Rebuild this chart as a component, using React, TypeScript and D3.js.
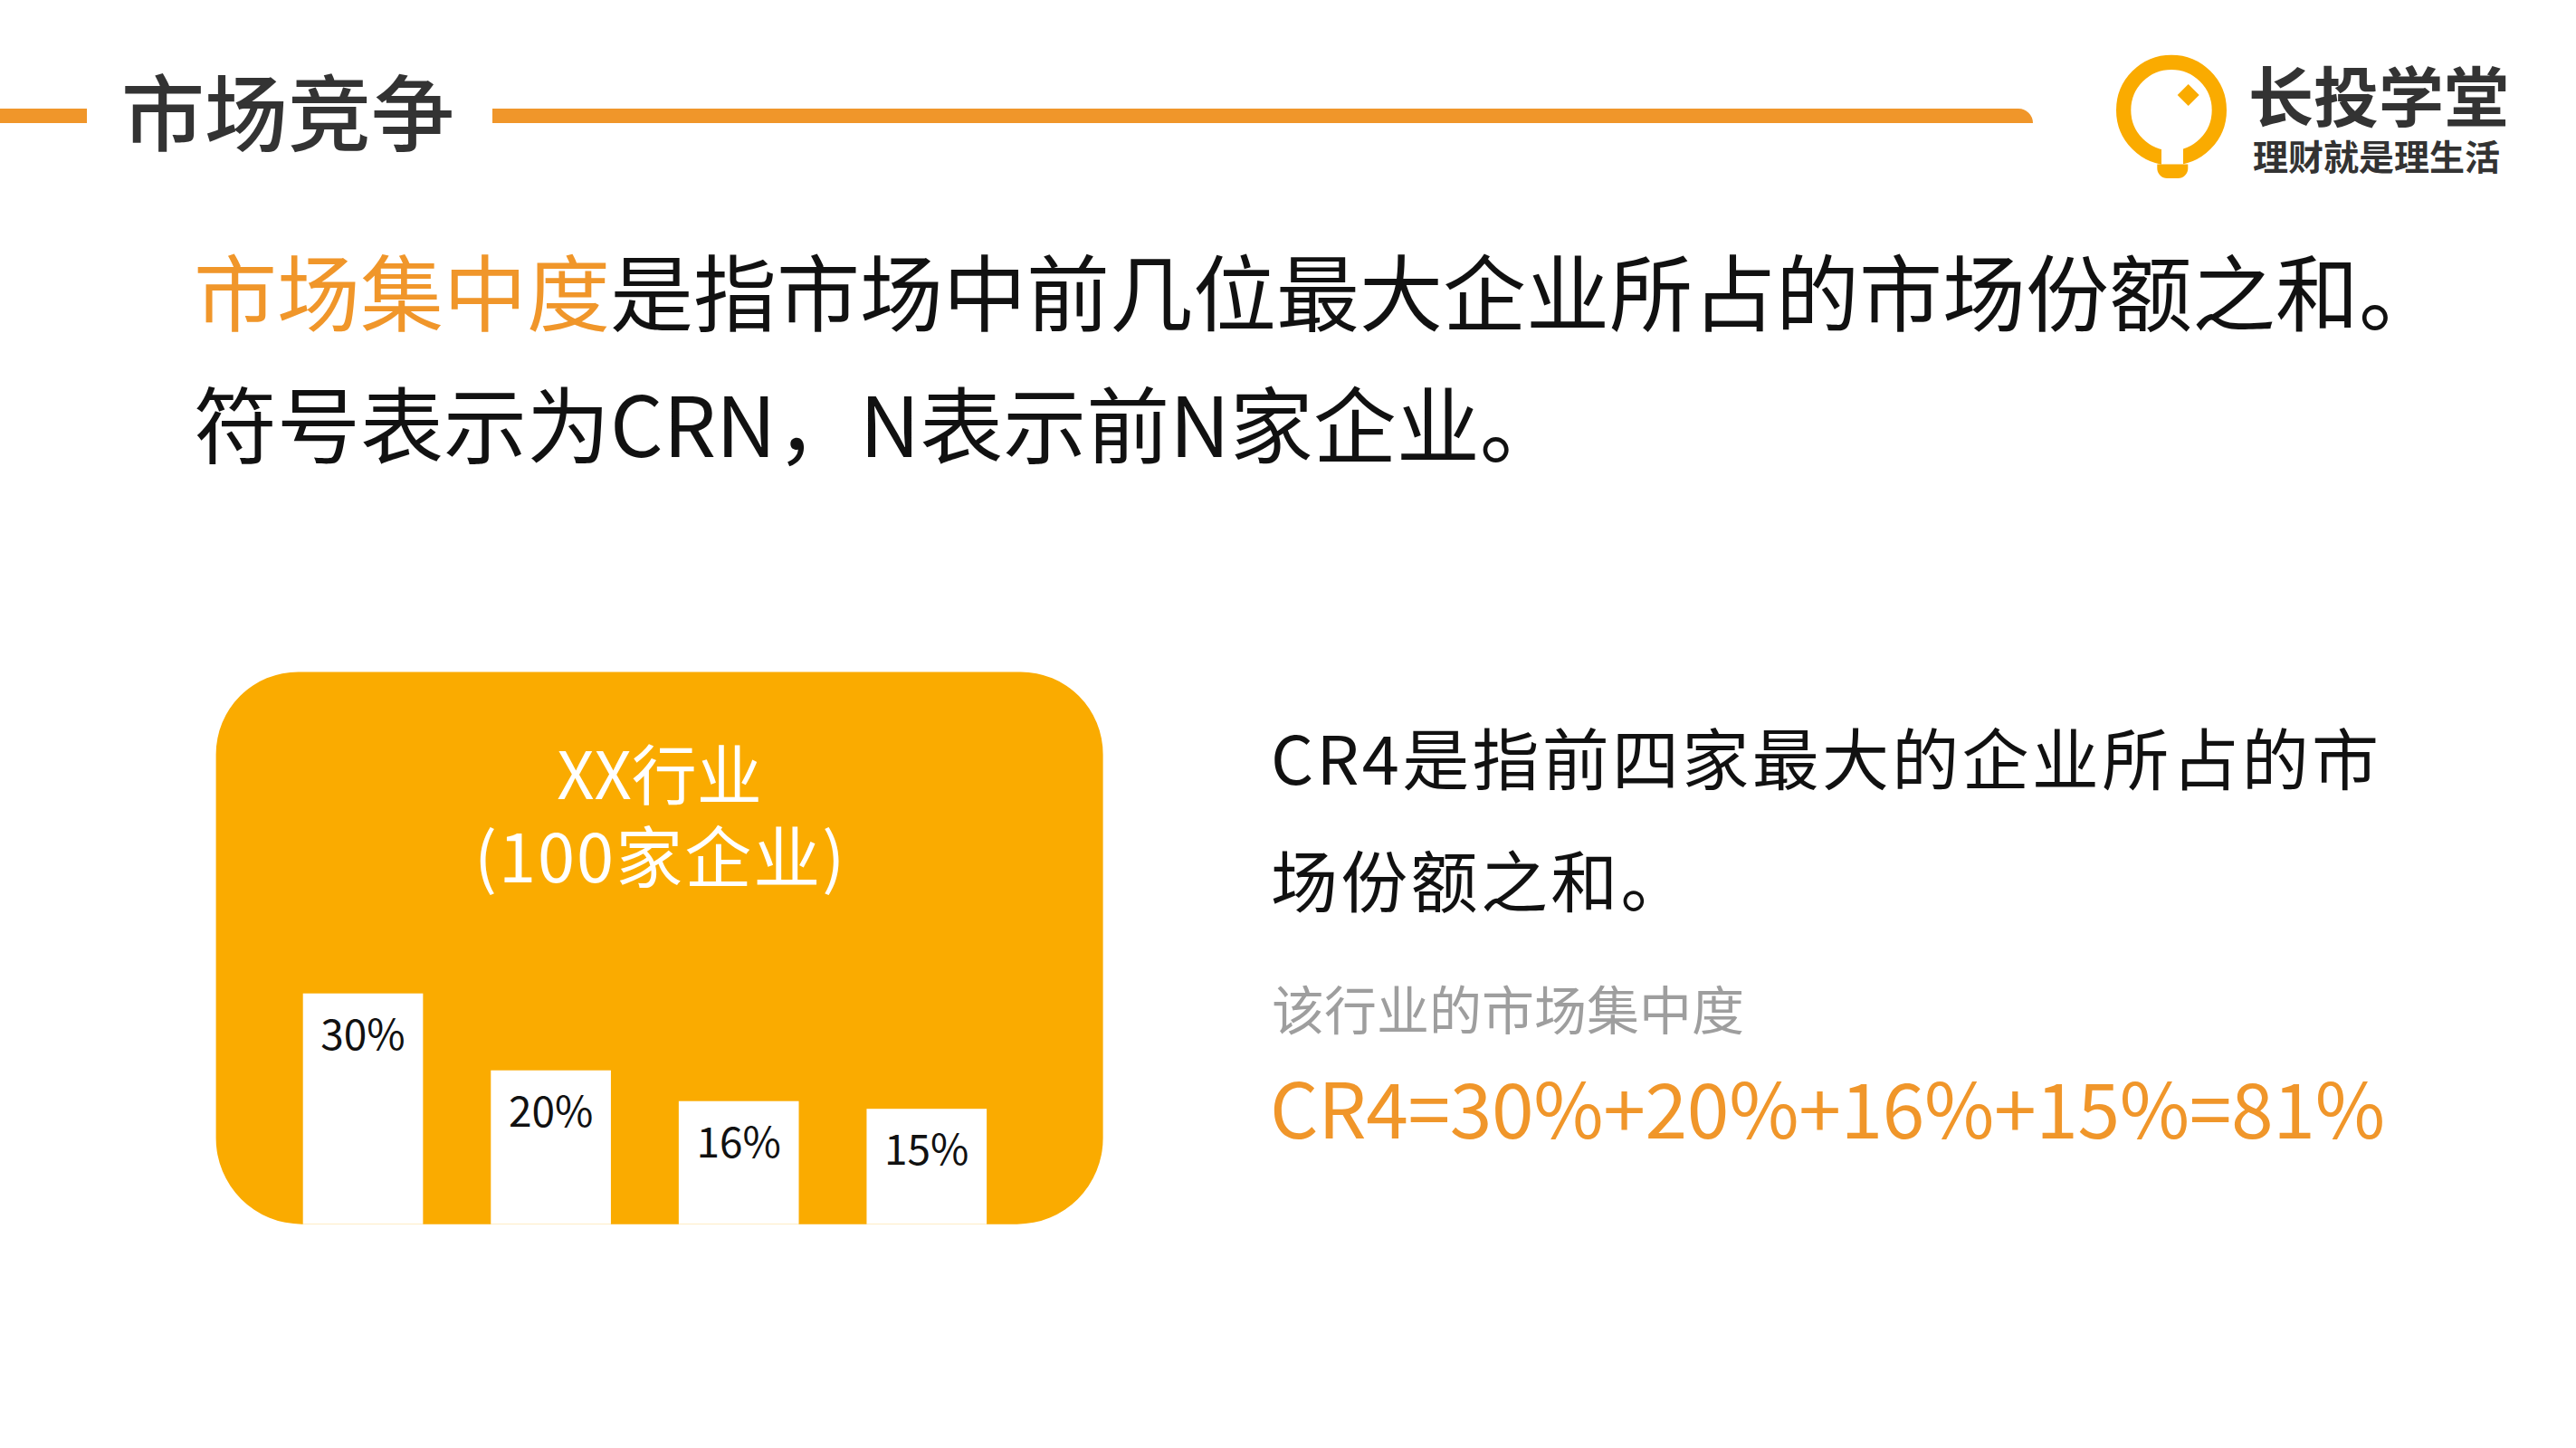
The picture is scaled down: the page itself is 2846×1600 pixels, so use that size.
import * as d3 from "d3";

const W = 2846;
const H = 1600;

// text content
const titleText = "市场竞争";
const brandName = "长投学堂";
const brandSlogan = "理财就是理生活";
const introHighlight = "市场集中度";
const introRest = "是指市场中前几位最大企业所占的市场份额之和。";
const introLine2 = "符号表示为CRN，N表示前N家企业。";
const industryLines = ["XX行业", "(100家企业)"];
const defLines = ["CR4是指前四家最大的企业所占的市", "场份额之和。"];
const noteText = "该行业的市场集中度";

// chart data: top 4 firms' market share (%)
const firms = ["企业A", "企业B", "企业C", "企业D"];
const shares = [30, 20, 16, 15];

const ORANGE = "#F0962A";
const AMBER = "#FAAB00";
const DARK = "#333333";
const FONT = "'Noto Sans CJK SC', 'Noto Sans', sans-serif";

export default function App() {
  // industry box
  const box = { x0: 238.6, x1: 1218.6, y0: 742.4, y1: 1352.7, rt: 91, rb: 95 };
  const boxPath = `M${box.x0},${box.y0 + box.rt}
    A${box.rt},${box.rt} 0 0 1 ${box.x0 + box.rt},${box.y0}
    L${box.x1 - box.rt},${box.y0}
    A${box.rt},${box.rt} 0 0 1 ${box.x1},${box.y0 + box.rt}
    L${box.x1},${box.y1 - box.rb}
    A${box.rb},${box.rb} 0 0 1 ${box.x1 - box.rb},${box.y1}
    L${box.x0 + box.rb},${box.y1}
    A${box.rb},${box.rb} 0 0 1 ${box.x0},${box.y1 - box.rb}Z`;
  const boxCx = (box.x0 + box.x1) / 2;

  // scales
  const x = d3
    .scaleBand()
    .domain(firms)
    .range([334.7, 1090.1])
    .paddingInner(0.361)
    .paddingOuter(0);
  const y = d3.scaleLinear().domain([0, 30]).range([box.y1, box.y1 - 255]);

  const total = d3.sum(shares);
  const formula = `CR4=${shares.map((s) => s + "%").join("+")}=${total}%`;

  // logo geometry
  const lc = { x: 2399, y: 121.7 };

  return (
    <svg
      width={W}
      height={H}
      viewBox={`0 0 ${W} ${H}`}
      style={{ position: "absolute", left: 0, top: 0, background: "#fff" }}
      fontFamily={FONT}
    >
      {/* header */}
      <rect x={0} y={120} width={96} height={16} fill={ORANGE} />
      <text x={134} y={160} fontSize={92} fill={DARK} fontWeight={500}>
        {titleText}
      </text>
      <path d="M544,120 L2230,120 A16,16 0 0 1 2246,136 L544,136Z" fill={ORANGE} />

      {/* logo */}
      <circle cx={lc.x} cy={lc.y} r={52.85} fill="none" stroke={AMBER} strokeWidth={16.3} />
      <rect x={2388} y={155} width={24} height={28} fill="#fff" />
      <path
        d="M2383.3,181.5 L2417.3,181.5 L2417.3,186 A11,11 0 0 1 2406.3,197 L2394.3,197 A11,11 0 0 1 2383.3,186Z"
        fill={AMBER}
      />
      <path d="M2417.7,93 L2429.7,105 L2417.7,117 L2405.7,105Z" fill={AMBER} />
      <text x={2484} y={134} fontSize={72} fontWeight={700} fill={DARK}>
        {brandName}
      </text>
      <text x={2489} y={188} fontSize={39} fontWeight={700} fill={DARK}>
        {brandSlogan}
      </text>

      {/* intro */}
      <text x={214} y={359} fontSize={92} fill="#111">
        <tspan fill={ORANGE}>{introHighlight}</tspan>
        <tspan>{introRest}</tspan>
      </text>
      <text x={214} y={504.6} fontSize={92} fill="#111">
        {introLine2}
      </text>

      {/* industry box with bars */}
      <path d={boxPath} fill={AMBER} />
      {industryLines.map((t, i) => (
        <text
          key={t}
          x={boxCx + (i === 1 ? 1 : 0)}
          y={883 + i * 92}
          fontSize={i === 1 ? 74 : 72}
          letterSpacing={i === 1 ? 2 : 0}
          fill="#fff"
          textAnchor="middle"
        >
          {t}
        </text>
      ))}
      {firms.map((f, i) => (
        <g key={f}>
          <rect
            x={x(f)}
            y={y(shares[i])}
            width={x.bandwidth()}
            height={box.y1 - y(shares[i])}
            fill="#fff"
          />
          <text
            x={(x(f) ?? 0) + x.bandwidth() / 2}
            y={y(shares[i]) + 62}
            fontSize={46}
            fill="#111"
            textAnchor="middle"
          >
            {shares[i]}%
          </text>
        </g>
      ))}

      {/* definition */}
      {defLines.map((t, i) => (
        <text
          key={t}
          x={1404}
          y={866.5 + i * 135}
          fontSize={74}
          fill="#111"
          letterSpacing={3.3}
        >
          {t}
        </text>
      ))}
      <text x={1405} y={1137.7} fontSize={58} fill="#9E9E9E">
        {noteText}
      </text>
      <text
        x={1403}
        y={1258}
        fontSize={84}
        fill={ORANGE}
        textLength={1232}
        lengthAdjust="spacing"
      >
        {formula}
      </text>
    </svg>
  );
}
